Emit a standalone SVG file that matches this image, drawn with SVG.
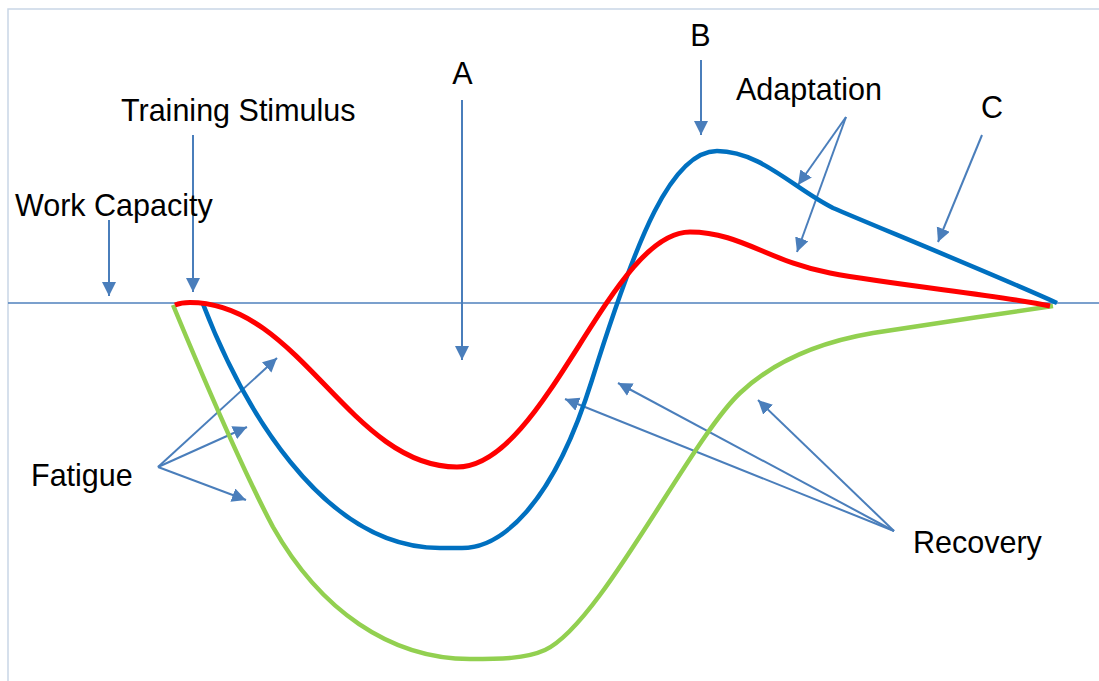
<svg xmlns="http://www.w3.org/2000/svg" width="1099" height="681" viewBox="0 0 1099 681">
  <style>
    .lbl { font-family: "Liberation Sans", Arial, sans-serif; font-size: 30.5px; fill: #000000; }
    .arr { stroke: #4a7ebb; stroke-width: 2; fill: none; marker-end: url(#head); }
    .curve { fill: none; stroke-linecap: butt; stroke-linejoin: round; }
  </style>
  <defs>
    <marker id="head" markerUnits="userSpaceOnUse" markerWidth="16" markerHeight="16" refX="14" refY="7" orient="auto">
      <path d="M0,0 L14,7 L0,14 Z" fill="#4a7ebb"/>
    </marker>
  </defs>
  <rect x="0" y="0" width="1099" height="681" fill="#ffffff"/>
  <g id="frame">
    <path d="M8,681 L8,9 L1099,9" fill="none" stroke="#c9d6e6" stroke-width="1.5"/>
  </g>
  <g id="baseline">
    <line x1="8" y1="303" x2="1099" y2="303" stroke="#4f81bd" stroke-width="1.5"/>
  </g>
  <g id="connectors">
    <line class="arr" x1="109" y1="220" x2="109" y2="296"/>
    <line class="arr" x1="193" y1="135" x2="193" y2="292"/>
    <line class="arr" x1="462" y1="100" x2="462" y2="360"/>
    <line class="arr" x1="701" y1="60" x2="701" y2="135"/>
    <line class="arr" x1="846" y1="117" x2="798" y2="185"/>
    <line class="arr" x1="846" y1="117" x2="797" y2="252"/>
    <line class="arr" x1="982" y1="135" x2="938" y2="242"/>
    <line class="arr" x1="158" y1="467" x2="277" y2="358"/>
    <line class="arr" x1="158" y1="467" x2="247" y2="427"/>
    <line class="arr" x1="158" y1="467" x2="246" y2="500"/>
    <line class="arr" x1="894" y1="531" x2="565" y2="399"/>
    <line class="arr" x1="894" y1="531" x2="618" y2="383"/>
    <line class="arr" x1="894" y1="531" x2="758" y2="400"/>
  </g>
  <g id="curves">
    <path id="green" class="curve" stroke="#92d050" stroke-width="4.5"
      d="M173,305 C200,370 240,465 273,527 C320,610 390,659 470,659 C500,659 525,659 545,650 C600,625 690,440 740,393 C775,360 820,342 873,333 C910,327 1000,314 1053,306"/>
    <path id="blue" class="curve" stroke="#0070c0" stroke-width="4.5"
      d="M203,304 C240,400 320,548 440,548 L462,548 C500,548 552,508 592,380 C637,236 672,151 717,151 C760,151 793,188 833,208 C870,224 1000,277 1057,303"/>
    <path id="red" class="curve" stroke="#ff0000" stroke-width="5"
      d="M175,305 C180,303 185,302.5 190,302.5 C300,302.5 350,467 457,467 C545,467 610,232 690,232 C740,232 770,262 830,273 C900,286 1000,295 1050,306"/>
  </g>
  <g id="label-work-capacity"><text class="lbl" x="15" y="216">Work Capacity</text></g>
  <g id="label-training-stimulus"><text class="lbl" x="121" y="121">Training Stimulus</text></g>
  <g id="label-a"><text class="lbl" x="462.5" y="84" text-anchor="middle">A</text></g>
  <g id="label-b"><text class="lbl" x="700.5" y="46" text-anchor="middle">B</text></g>
  <g id="label-adaptation"><text class="lbl" x="736" y="100">Adaptation</text></g>
  <g id="label-c"><text class="lbl" x="992" y="118" text-anchor="middle">C</text></g>
  <g id="label-fatigue"><text class="lbl" x="31" y="486">Fatigue</text></g>
  <g id="label-recovery"><text class="lbl" x="913" y="553">Recovery</text></g>
</svg>
